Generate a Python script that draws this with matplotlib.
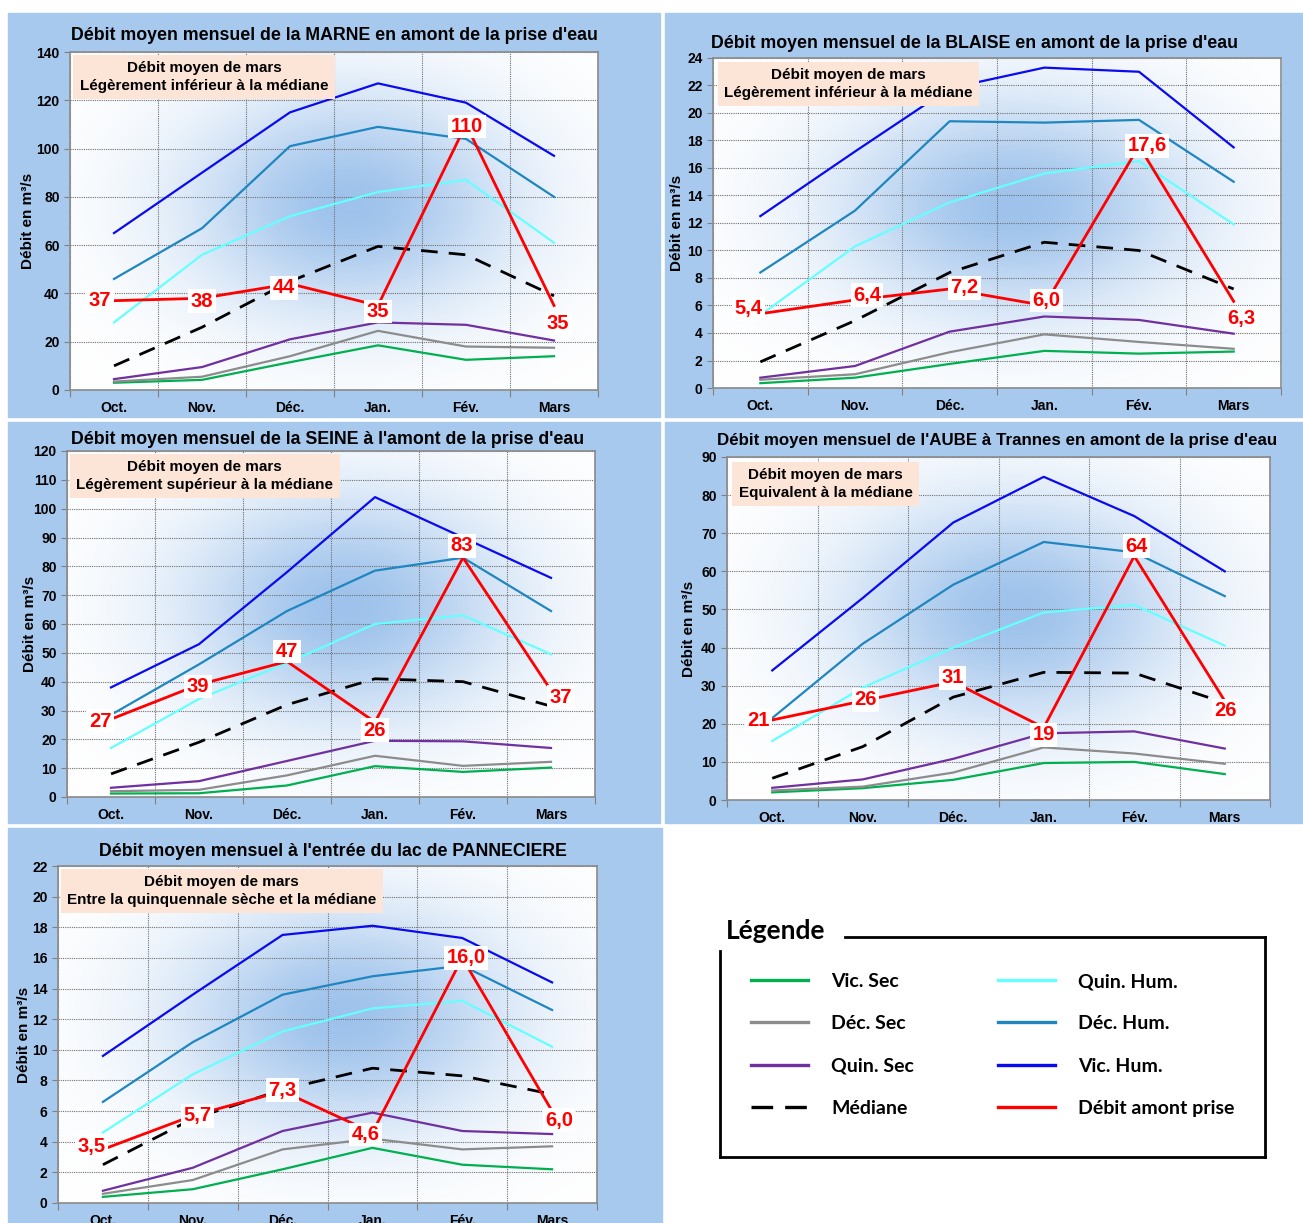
import numpy as np
import matplotlib
matplotlib.use("Agg")
import matplotlib.pyplot as plt
from matplotlib.lines import Line2D
from matplotlib.patches import Rectangle

plt.rcParams['font.family'] = ['Liberation Sans', 'DejaVu Sans']
plt.rcParams['font.weight'] = 'bold'

# ---- données ----
mois = ["Oct.", "Nov.", "Déc.", "Jan.", "Fév.", "Mars"]
noms_series = ["Vic. Sec", "Déc. Sec", "Quin. Sec", "Médiane",
               "Quin. Hum.", "Déc. Hum.", "Vic. Hum.", "Débit amont prise"]

# MARNE
marne_vic_sec = [3.0, 4.2, 11.5, 18.5, 12.5, 14.0]
marne_dec_sec = [3.5, 5.5, 14.0, 24.5, 18.0, 17.5]
marne_quin_sec = [4.5, 9.5, 21.0, 28.0, 27.0, 20.5]
marne_mediane = [10.0, 26.0, 45.0, 59.5, 56.0, 39.0]
marne_quin_hum = [28.0, 56.0, 72.0, 82.0, 87.0, 61.0]
marne_dec_hum = [46.0, 67.0, 101.0, 109.0, 104.0, 80.0]
marne_vic_hum = [65.0, 90.0, 115.0, 127.0, 119.0, 97.0]
marne_debit = [37, 38, 44, 35, 110, 35]

# BLAISE
blaise_vic_sec = [0.35, 0.75, 1.75, 2.7, 2.5, 2.65]
blaise_dec_sec = [0.6, 1.0, 2.6, 3.9, 3.35, 2.85]
blaise_quin_sec = [0.75, 1.6, 4.1, 5.2, 4.95, 3.95]
blaise_mediane = [1.9, 4.9, 8.4, 10.6, 10.0, 7.2]
blaise_quin_hum = [5.3, 10.3, 13.5, 15.6, 16.5, 11.9]
blaise_dec_hum = [8.4, 12.9, 19.4, 19.3, 19.5, 15.0]
blaise_vic_hum = [12.5, 17.2, 21.8, 23.3, 23.0, 17.5]
blaise_debit = [5.4, 6.4, 7.2, 6.0, 17.6, 6.3]

# SEINE
seine_vic_sec = [1.2, 1.3, 4.0, 10.7, 8.7, 10.2]
seine_dec_sec = [2.0, 2.5, 7.5, 14.3, 10.8, 12.2]
seine_quin_sec = [3.2, 5.5, 12.5, 19.5, 19.3, 17.0]
seine_mediane = [8.0, 19.0, 32.0, 41.0, 40.0, 31.5]
seine_quin_hum = [17.0, 34.0, 46.5, 60.0, 63.0, 49.5]
seine_dec_hum = [28.5, 46.0, 64.5, 78.5, 83.0, 64.5]
seine_vic_hum = [38.0, 53.0, 78.0, 104.0, 90.0, 76.0]
seine_debit = [27, 39, 47, 26, 83, 37]

# AUBE
aube_vic_sec = [2.0, 3.1, 5.3, 9.7, 10.0, 6.8]
aube_dec_sec = [2.5, 3.5, 7.2, 13.8, 12.2, 9.5]
aube_quin_sec = [3.2, 5.4, 10.8, 17.5, 18.0, 13.5]
aube_mediane = [5.7, 14.0, 27.0, 33.5, 33.3, 25.5]
aube_quin_hum = [15.5, 29.5, 40.0, 49.2, 51.2, 40.5]
aube_dec_hum = [21.5, 41.0, 56.5, 67.7, 65.0, 53.5]
aube_vic_hum = [34.0, 53.0, 72.8, 84.8, 74.5, 60.0]
aube_debit = [21, 26, 31, 19, 64, 26]

# PANNECIERE
pann_vic_sec = [0.4, 0.9, 2.2, 3.6, 2.5, 2.2]
pann_dec_sec = [0.6, 1.5, 3.5, 4.2, 3.5, 3.7]
pann_quin_sec = [0.8, 2.3, 4.7, 5.9, 4.7, 4.5]
pann_mediane = [2.5, 5.5, 7.4, 8.8, 8.3, 7.1]
pann_quin_hum = [4.6, 8.4, 11.2, 12.7, 13.2, 10.2]
pann_dec_hum = [6.6, 10.5, 13.6, 14.8, 15.5, 12.6]
pann_vic_hum = [9.6, 13.6, 17.5, 18.1, 17.3, 14.4]
pann_debit = [3.5, 5.7, 7.3, 4.6, 16.0, 6.0]

# ---- styles ----
styles = {
    "Vic. Sec": dict(color="#00B050", lw=1.6),
    "Déc. Sec": dict(color="#8C8C8C", lw=1.6),
    "Quin. Sec": dict(color="#7030A0", lw=1.6),
    "Médiane": dict(color="black", lw=2.0, linestyle=(0, (6, 4))),
    "Quin. Hum.": dict(color="#66FFFF", lw=1.6),
    "Déc. Hum.": dict(color="#1F86C0", lw=1.6),
    "Vic. Hum.": dict(color="#0A0AEE", lw=1.6),
    "Débit amont prise": dict(color="#FF0000", lw=2.0),
}
ordre_trace = ["Vic. Sec", "Déc. Sec", "Quin. Sec", "Quin. Hum.", "Déc. Hum.",
               "Vic. Hum.", "Médiane", "Débit amont prise"]

W, H = 1303, 1223
fig = plt.figure(figsize=(W / 100, H / 100), dpi=100)
fig.patch.set_facecolor("white")

BLEU_FOND = "#A8C9EE"
POLICE_ETIQ = ["Liberation Sans Narrow", "Liberation Sans", "DejaVu Sans"]


def fond_bleu(x0, y0, x1, y1):
    fig.add_artist(Rectangle((x0 / W, 1 - y1 / H), (x1 - x0) / W, (y1 - y0) / H,
                             transform=fig.transFigure, color=BLEU_FOND, zorder=-10))


def axes_px(l, t, r, b):
    rect = [l / W, 1 - b / H, (r - l) / W, (b - t) / H]
    # fond en dégradé
    bg = fig.add_axes(rect, zorder=0)
    xx, yy = np.meshgrid(np.linspace(0, 1, 200), np.linspace(1, 0, 200))
    a = 0.95 * np.exp(-((xx - 0.53) / 0.31) ** 2 - ((yy - 0.55) / 0.33) ** 2)
    blanc = np.array([1.0, 1.0, 1.0])
    bleu = np.array([0.60, 0.75, 0.92])
    img = blanc[None, None, :] * (1 - a[..., None]) + bleu[None, None, :] * a[..., None]
    bg.imshow(img, extent=(0, 1, 0, 1), aspect="auto")
    bg.axis("off")
    ax = fig.add_axes(rect, zorder=1)
    ax.patch.set_alpha(0)
    return ax


def panneau(ax, titre, donnees, ymax, ystep, texte_box, box_pos, decimales,
            decalages, pad_titre, x_titre, taille_titre, labelpad):
    x = np.arange(len(mois))
    lignes = {}
    for z, nom in enumerate(ordre_trace):
        (ln,) = ax.plot(x, donnees[nom], zorder=3 + z, **styles[nom])
        lignes[nom] = ln
    debit = donnees["Débit amont prise"]
    for i, v in enumerate(debit):
        txt = f"{v:.1f}".replace(".", ",") if decimales else f"{v:.0f}"
        dx, dy = decalages[i]
        ax.annotate(txt, (x[i], v), xytext=(dx, -dy), textcoords="offset pixels",
                    ha="center", va="center", color="#FF0000", fontsize=14.5,
                    fontweight="bold", family=POLICE_ETIQ, zorder=20,
                    bbox=dict(boxstyle="square,pad=0.12", fc="white", ec="none"))
    ax.set_xlim(-0.5, len(mois) - 0.5)
    ax.set_ylim(0, ymax)
    ax.set_yticks(np.arange(0, ymax + ystep / 2, ystep))
    ax.set_xticks(np.arange(-0.5, len(mois)), labels=[])
    ax.set_xticks(x, labels=mois, minor=True)
    ax.tick_params(axis="x", which="major", length=5, color="#808080")
    ax.tick_params(axis="x", which="minor", length=0, labelsize=10, pad=8)
    ax.tick_params(axis="y", length=4, color="#808080", labelsize=10)
    ax.grid(True, which="major", color="#707070", linestyle=(0, (1, 1)), lw=0.8)
    ax.set_axisbelow(True)
    for s in ax.spines.values():
        s.set_color("#8A8A8A")
        s.set_linewidth(1.2)
    ax.set_ylabel("Débit en m³/s", fontsize=11, fontweight="bold", labelpad=labelpad)
    ax.set_title(titre, fontsize=taille_titre, fontweight="bold", pad=pad_titre,
                 x=x_titre)
    ax.text(box_pos[0], box_pos[1], texte_box, transform=ax.transAxes, ha="center",
            va="center", multialignment="center", fontsize=11, fontweight="bold",
            linespacing=1.3, zorder=15,
            bbox=dict(boxstyle="square,pad=0.42", fc="#FCE4D6", ec="none"))
    return lignes


# panneaux de fond bleus
fond_bleu(8, 13, 660, 417)
fond_bleu(665, 13, 1303, 417)
fond_bleu(8, 422, 660, 823)
fond_bleu(665, 422, 1303, 823)
fond_bleu(8, 828, 662, 1223)


def paquet(vs, ds, qs, med, qh, dh, vh, deb):
    return dict(zip(["Vic. Sec", "Déc. Sec", "Quin. Sec", "Médiane", "Quin. Hum.",
                     "Déc. Hum.", "Vic. Hum.", "Débit amont prise"],
                    [vs, ds, qs, med, qh, dh, vh, deb]))


ax1 = axes_px(70, 52, 598, 390)
panneau(ax1, "Débit moyen mensuel de la MARNE en amont de la prise d'eau",
        paquet(marne_vic_sec, marne_dec_sec, marne_quin_sec, marne_mediane,
               marne_quin_hum, marne_dec_hum, marne_vic_hum, marne_debit),
        140, 20, "Débit moyen de mars\nLégèrement inférieur à la médiane",
        (0.254, 0.926), False,
        [(-14, 0), (0, 3), (-6, 4), (0, 6), (1, 2), (4, 18)], 8.3, 0.5, 12.8, 1)

ax2 = axes_px(713, 58, 1281, 388)
panneau(ax2, "Débit moyen mensuel de la BLAISE en amont de la prise d'eau",
        paquet(blaise_vic_sec, blaise_dec_sec, blaise_quin_sec, blaise_mediane,
               blaise_quin_hum, blaise_dec_hum, blaise_vic_hum, blaise_debit),
        24, 2, "Débit moyen de mars\nLégèrement inférieur à la médiane",
        (0.238, 0.921), True,
        [(-12, -5), (12, -5), (15, -1), (2, -5), (8, 0), (8, 17)], 7.5, 0.461, 12.8, 2)

ax3 = axes_px(67, 451, 595, 797)
panneau(ax3, "Débit moyen mensuel de la SEINE à l'amont de la prise d'eau",
        paquet(seine_vic_sec, seine_dec_sec, seine_quin_sec, seine_mediane,
               seine_quin_hum, seine_dec_hum, seine_vic_hum, seine_debit),
        120, 10, "Débit moyen de mars\nLégèrement supérieur à la médiane",
        (0.261, 0.928), False,
        [(-11, 2), (-1, 2), (0, -10), (0, 8), (-1, -12), (10, 7)], 4.7, 0.494, 12.8, -3)

ax4 = axes_px(727, 457, 1270, 800)
panneau(ax4, "Débit moyen mensuel de l'AUBE à Trannes en amont de la prise d'eau",
        paquet(aube_vic_sec, aube_dec_sec, aube_quin_sec, aube_mediane,
               aube_quin_hum, aube_dec_hum, aube_vic_hum, aube_debit),
        90, 10, "Débit moyen de mars\nEquivalent à la médiane",
        (0.182, 0.921), False,
        [(-14, 1), (3, -1), (-1, -4), (0, 7), (2, -10), (1, 10)], 8.3, 0.497, 12.2, 3.5)

ax5 = axes_px(58, 866, 597, 1203)
panneau(ax5, "Débit moyen mensuel à l'entrée du lac de PANNECIERE",
        paquet(pann_vic_sec, pann_dec_sec, pann_quin_sec, pann_mediane,
               pann_quin_hum, pann_dec_hum, pann_vic_hum, pann_debit),
        22, 2, "Débit moyen de mars\nEntre la quinquennale sèche et la médiane",
        (0.304, 0.926), True,
        [(-11, -3), (5, 0), (0, -1), (-7, 2), (4, 0), (7, 9)], 7.5, 0.51, 12.8, 0.5)

# ---- légende ----
cadre = dict(transform=fig.transFigure, color="black", lw=2)
fig.add_artist(Line2D([845 / W, 1265 / W], [1 - 937 / H, 1 - 937 / H], **cadre))
fig.add_artist(Line2D([1265 / W, 1265 / W], [1 - 937 / H, 1 - 1157 / H], **cadre))
fig.add_artist(Line2D([720 / W, 1265 / W], [1 - 1157 / H, 1 - 1157 / H], **cadre))
fig.add_artist(Line2D([720 / W, 720 / W], [1 - 951 / H, 1 - 1157 / H], **cadre))
fig.text(726 / W, 1 - 931 / H, "Légende", fontsize=19, fontweight="bold",
         family=["Lato", "DejaVu Sans"], va="center", ha="left")

ordre_leg = ["Vic. Sec", "Déc. Sec", "Quin. Sec", "Médiane",
             "Quin. Hum.", "Déc. Hum.", "Vic. Hum.", "Débit amont prise"]
poignees = []
for n in ordre_leg:
    st = {**styles[n], "lw": 2.4}
    if n == "Médiane":
        st["linestyle"] = (0, (6.5, 3.6))
    poignees.append(Line2D([], [], **st))
fig.legend(poignees, ordre_leg, ncol=2, loc="upper left",
           bbox_to_anchor=(751 / W, 1 - 973 / H), frameon=False,
           prop=dict(family=["Lato", "DejaVu Sans"], weight="bold", size=14),
           handlelength=2.93, handletextpad=1.18, columnspacing=4.35,
           labelspacing=1.3, borderaxespad=0, borderpad=0)

fig.savefig("out.png", dpi=100, facecolor=fig.get_facecolor())
